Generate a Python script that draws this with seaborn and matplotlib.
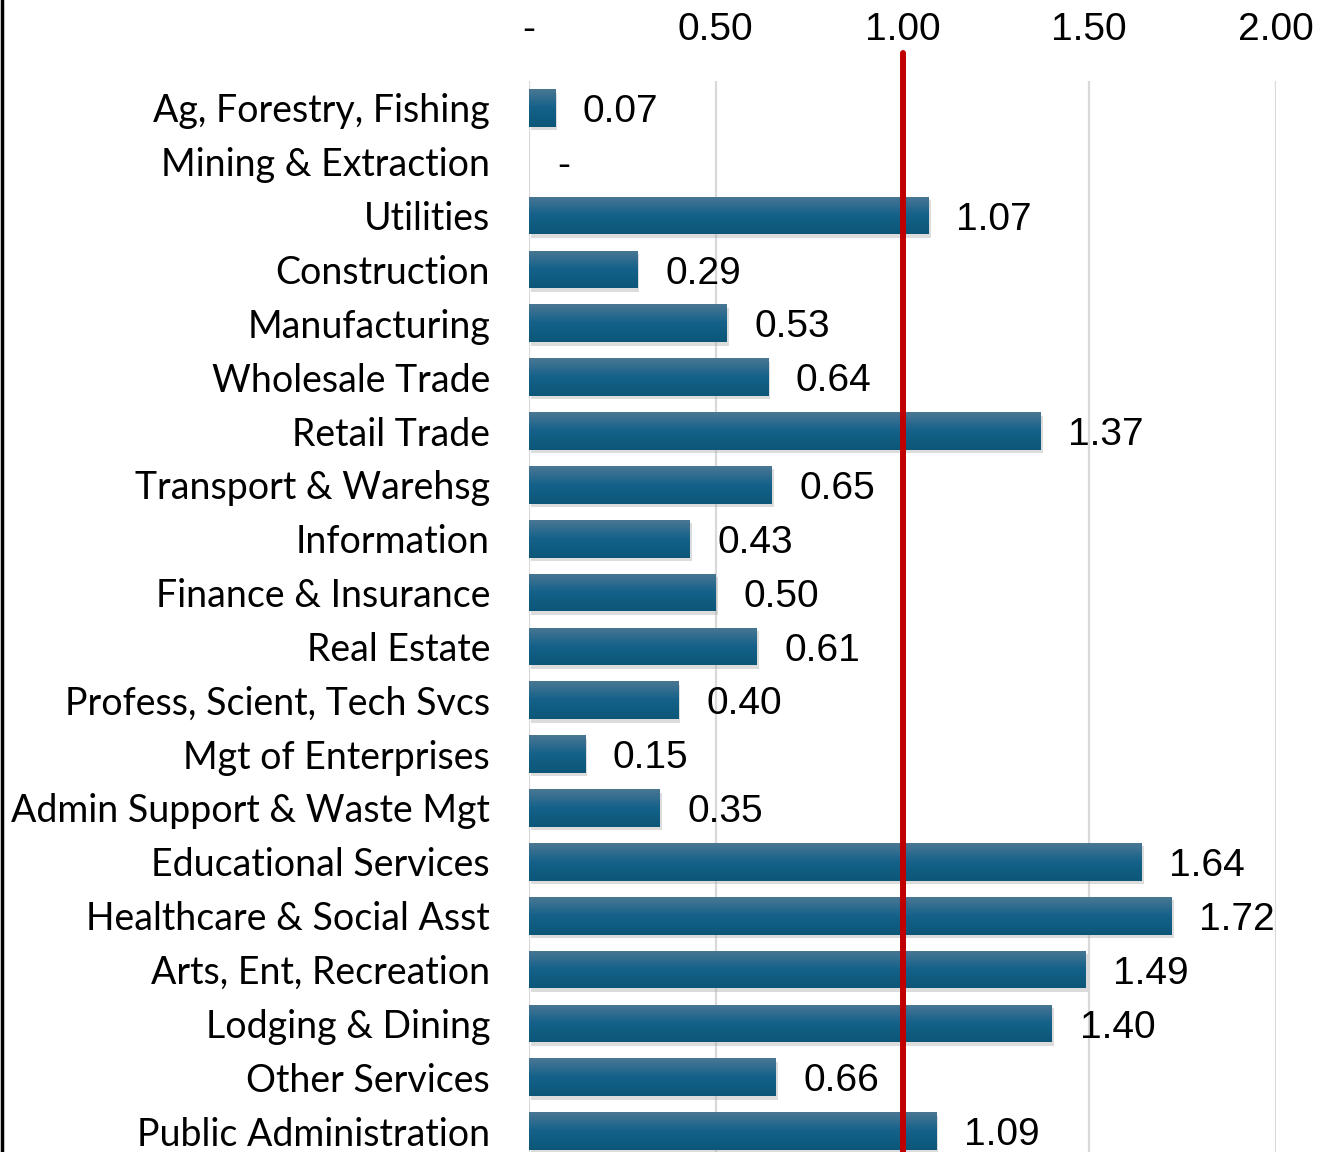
import matplotlib
matplotlib.use("Agg")
import matplotlib.pyplot as plt
import matplotlib.patheffects as pe
from matplotlib.lines import Line2D
from matplotlib.colors import LinearSegmentedColormap
import numpy as np
import seaborn as sns
import pandas as pd

categories = ["Ag, Forestry, Fishing", "Mining & Extraction", "Utilities", "Construction",
              "Manufacturing", "Wholesale Trade", "Retail Trade", "Transport & Warehsg",
              "Information", "Finance & Insurance", "Real Estate", "Profess, Scient, Tech Svcs",
              "Mgt of Enterprises", "Admin Support & Waste Mgt", "Educational Services",
              "Healthcare & Social Asst", "Arts, Ent, Recreation", "Lodging & Dining",
              "Other Services", "Public Administration"]
values = [0.07, 0.0, 1.07, 0.29, 0.53, 0.64, 1.37, 0.65, 0.43, 0.50, 0.61, 0.40, 0.15,
          0.35, 1.64, 1.72, 1.49, 1.40, 0.66, 1.09]
xticks = [0, 0.5, 1.0, 1.5, 2.0]
xticklabels = ["-", "0.50", "1.00", "1.50", "2.00"]
ref_value = 1.0

df = pd.DataFrame({"cat": categories, "val": values})

sns.set_theme(style="white")
plt.rcParams['font.family'] = ['Liberation Sans', 'DejaVu Sans']

fig = plt.figure(figsize=(13.29, 11.52), dpi=100)
ax = fig.add_axes([529/1329, -6/1152, (1276-529)/1329, (1158-81)/1152])

sns.barplot(data=df, x="val", y="cat", orient="h", color="#175E85", width=0.7,
            saturation=1, ax=ax, zorder=3)

grad_cmap = LinearSegmentedColormap.from_list("bar", ["#4A7793", "#14618A", "#0C5778"])
grad = np.linspace(0, 1, 64).reshape(-1, 1)
for p in ax.patches:
    p.set_edgecolor("none")
    p.set_path_effects([pe.SimplePatchShadow(offset=(1.5, -2.5), shadow_rgbFace="#A8A8A8", alpha=0.4),
                        pe.Normal()])
    x0, y0 = p.get_x(), p.get_y()
    w, h = p.get_width(), p.get_height()
    if w > 0:
        im = ax.imshow(grad, cmap=grad_cmap, aspect="auto", extent=(x0, x0 + w, y0 + h, y0),
                       zorder=4, interpolation="bilinear")
        im.set_clip_path(p)

ax.set_xlim(0, 2.0)
ax.set_ylim(len(categories) - 0.5, -0.5)
ax.set_xticks(xticks)
ax.set_xticklabels(xticklabels)
ax.xaxis.tick_top()
ax.tick_params(axis="x", length=0, pad=24, labelsize=28, colors="black")
ax.tick_params(axis="y", length=0, pad=28)
for lab in ax.get_yticklabels():
    lab.set_fontfamily(["Lato", "DejaVu Sans"])
    lab.set_fontsize(27)
    lab.set_color("black")
ax.set_xlabel("")
ax.set_ylabel("")
for s in ax.spines.values():
    s.set_visible(False)
for xt in xticks:
    ax.axvline(xt, color="#D9D9D9", lw=1.6, zorder=1)

ax.axvline(ref_value, ymin=0, ymax=1.026, color="#C00000", lw=4.3, zorder=5, clip_on=False)

for i, v in enumerate(values):
    txt = "-" if v == 0 else f"{v:.2f}"
    ax.annotate(txt, xy=(v, i), xytext=(20, -3), textcoords="offset points",
                ha="left", va="center", fontsize=28, color="black", zorder=6)

fig.add_artist(Line2D([2/1329, 2/1329], [0, 1], transform=fig.transFigure,
                      color="black", lw=2.5))

fig.savefig("out.png", dpi=100, facecolor="white")
